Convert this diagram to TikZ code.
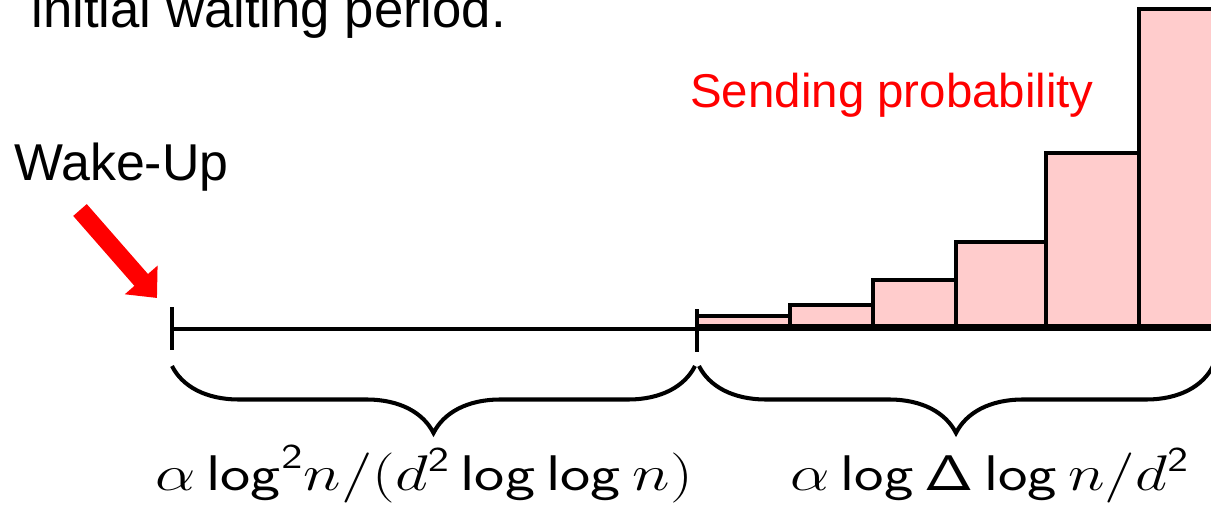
\documentclass[tikz,border=0pt]{standalone}
\usepackage{fix-cm}
\usepackage[no-math]{fontspec}
\newfontfamily\arialfont{Liberation Sans}
\usetikzlibrary{arrows.meta, decorations.pathreplacing}

\newcommand{\slog}{\mathop{\mathsf{log}}\nolimits}

\begin{document}
\begin{tikzpicture}[
    x=0.02cm, y=-0.02cm,
    textlbl/.style   = {font=\arialfont\fontsize{29.5}{34}\selectfont,
                        inner sep=0pt, anchor=base west},
    problbl/.style   = {textlbl, text=red,
                        font=\arialfont\fontsize{27}{31}\selectfont},
    mathlbl/.style   = {font=\fontsize{28.5}{32}\selectfont,
                        inner sep=0pt, anchor=base},
    axisline/.style  = {line width=2.8pt, draw=black},
    tickmark/.style  = {line width=2.8pt, draw=black},
    probbar/.style   = {draw=black, line width=2.5pt, fill=red!20},
    spanbrace/.style = {draw=black, line width=2.3pt, decorate,
                        decoration={brace, mirror, amplitude=1.34cm}},
    wakearrow/.style = {draw=red, line width=0.36cm,
                        -{Triangle[length=0.48cm, width=0.84cm]}},
]
\useasboundingbox (0,0) rectangle (1211,511);

%% ============================================================
%% COORDINATES
%% ============================================================
\def\xWake{172}
\def\xSend{697}
\def\xEnd{1240}
\def\yAxis{329}
\def\yBar{326}
\def\yBrace{366}

%% ============================================================
%% TEXT LABELS
%% ============================================================
\node[textlbl, font=\arialfont\fontsize{30}{34}\selectfont]
    (initlbl) at (31,27) {initial waiting period.};
\node[textlbl] (wakelbl) at (14,180)  {Wake-Up};
\node[problbl] (problbl) at (690,107) {Sending probability};

%% ============================================================
%% SENDING PROBABILITY BARS
%% ============================================================
\draw[probbar] (\xSend,\yBar) rectangle (790,316);
\draw[probbar] (790,\yBar)    rectangle (873,305);
\draw[probbar] (873,\yBar)    rectangle (956,280);
\draw[probbar] (956,\yBar)    rectangle (1046,242);
\draw[probbar] (1046,\yBar)   rectangle (1139,153);
\draw[probbar] (1139,\yBar)   rectangle (\xEnd,9);

%% ============================================================
%% TIME LINE AND TICKS
%% ============================================================
\coordinate (tStart) at (\xWake,\yAxis);
\coordinate (tSend)  at (\xSend,\yAxis);
\coordinate (tEnd)   at (\xEnd,\yAxis);
\draw[axisline] (tStart) -- (tEnd);
\draw[tickmark] (tStart) ++(0,-22) -- ++(0,43);
\draw[tickmark] (tSend)  ++(0,-20) -- ++(0,43);

%% ============================================================
%% WAKE-UP ARROW
%% ============================================================
\coordinate (wakeTail) at (80,210);
\coordinate (wakeTip)  at (157,298);
\draw[wakearrow] (wakeTail) -- (wakeTip);

%% ============================================================
%% BRACES AND DURATIONS
%% ============================================================
\draw[spanbrace] (\xWake,\yBrace) -- (\xSend-2,\yBrace);
\draw[spanbrace] (\xSend+2,\yBrace) -- (1213,\yBrace);

\node[mathlbl] (waitlbl) at (424,490)
    {\scalebox{1.28}[1]{$\alpha\slog^{\mathsf{2}}\!n/(d^{\mathsf{2}}\slog\slog n)$}};
\node[mathlbl] (sendlbl) at (990,490)
    {\scalebox{1.25}[1]{$\alpha\slog\mathsf{\Delta}\slog n/d^{\mathsf{2}}$}};

\end{tikzpicture}
\end{document}
